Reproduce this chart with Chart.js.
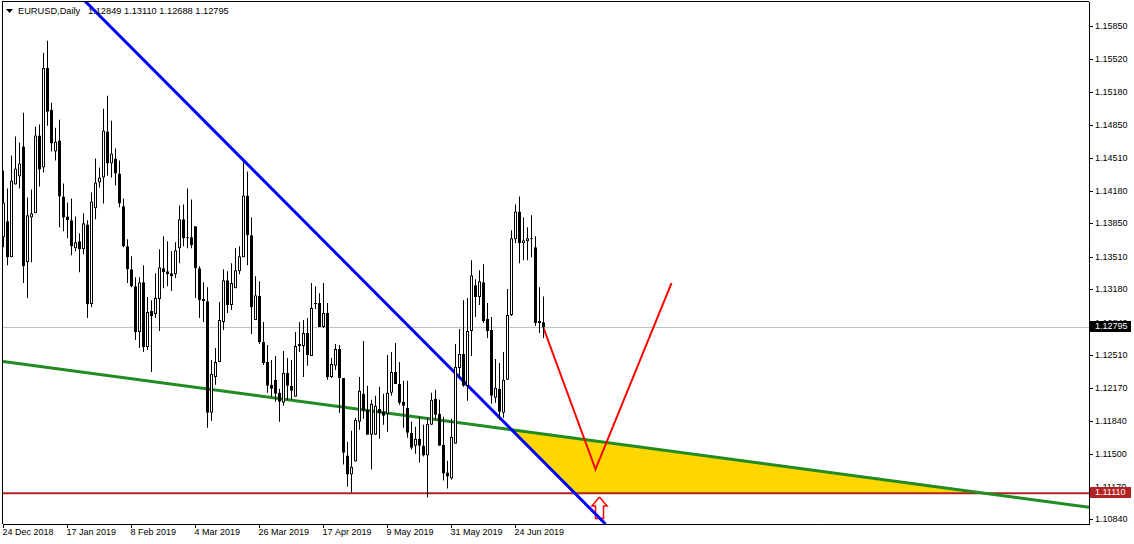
<!DOCTYPE html>
<html><head><meta charset="utf-8">
<style>html,body{margin:0;padding:0;background:#fff;overflow:hidden}canvas{display:block}</style>
<script src="https://cdn.jsdelivr.net/npm/chart.js@4/dist/chart.umd.min.js"></script>
</head><body><canvas id="c" width="1134" height="544"></canvas>
<script>
const opens=[1.13712,1.13874,1.13509,1.14249,1.14330,1.14634,1.13458,1.13914,1.13955,1.14745,1.14421,1.15434,1.15009,1.14583,1.14695,1.14127,1.13924,1.13884,1.13600,1.13671,1.13590,1.13843,1.13033,1.14006,1.14269,1.14320,1.14786,1.14461,1.14512,1.14360,1.14026,1.13621,1.13387,1.13215,1.12749,1.13256,1.12597,1.12962,1.12932,1.13084,1.13398,1.13367,1.13347,1.13337,1.13600,1.13894,1.13712,1.13712,1.13823,1.13398,1.13084,1.13063,1.11928,1.12293,1.12445,1.12850,1.13276,1.13023,1.13195,1.13367,1.13509,1.14137,1.13732,1.12871,1.13114,1.12648,1.12445,1.12212,1.12263,1.12131,1.12030,1.12334,1.12202,1.12091,1.12628,1.12607,1.12739,1.12506,1.13043,1.13043,1.12800,1.12942,1.12293,1.12405,1.12577,1.12283,1.11493,1.11300,1.11432,1.11837,1.12121,1.11959,1.11706,1.11706,1.11969,1.11939,1.11918,1.12131,1.12344,1.12222,1.12040,1.11979,1.11726,1.11594,1.11665,1.11594,1.11493,1.11807,1.12070,1.11918,1.11604,1.11321,1.11260,1.11614,1.12384,1.12526,1.12202,1.12759,1.13225,1.13104,1.13256,1.12881,1.12769,1.12080,1.12172,1.11928,1.12263,1.12921,1.13691,1.13975,1.13651,1.13671,1.13691,1.13610,1.12861,1.12849];
const highs=[1.14391,1.14208,1.14543,1.14735,1.14674,1.14978,1.14117,1.14198,1.14836,1.14857,1.15586,1.15708,1.15080,1.14826,1.14907,1.14259,1.14066,1.14107,1.13924,1.13752,1.13955,1.13884,1.14168,1.14512,1.14421,1.15019,1.15150,1.14897,1.14613,1.14492,1.14107,1.13691,1.13519,1.13306,1.13306,1.13428,1.13104,1.13073,1.13347,1.13590,1.13722,1.13671,1.13570,1.13661,1.14036,1.14046,1.14208,1.14097,1.13823,1.13418,1.13256,1.13205,1.12465,1.12587,1.13053,1.13387,1.13367,1.13448,1.13600,1.13621,1.14472,1.14380,1.13914,1.13317,1.13266,1.12850,1.12617,1.12465,1.12506,1.12172,1.12557,1.12486,1.12465,1.12749,1.12850,1.12871,1.12891,1.13246,1.13215,1.13144,1.13246,1.13043,1.12486,1.12628,1.12617,1.12283,1.11635,1.11746,1.11878,1.12293,1.12658,1.12202,1.12060,1.12101,1.12192,1.12121,1.12516,1.12547,1.12638,1.12445,1.12253,1.12253,1.11837,1.11787,1.11888,1.11807,1.11878,1.12131,1.12162,1.12060,1.11888,1.11442,1.11868,1.12628,1.12780,1.13073,1.13094,1.13479,1.13286,1.13377,1.13438,1.13043,1.12901,1.12476,1.12435,1.12547,1.13185,1.13783,1.14046,1.14127,1.13914,1.13813,1.13935,1.13722,1.13205,1.13110];
const lows=[1.13610,1.13428,1.13509,1.14249,1.14208,1.13246,1.13094,1.13458,1.13955,1.14228,1.14370,1.14846,1.14583,1.14492,1.13813,1.13773,1.13702,1.13529,1.13570,1.13357,1.13539,1.12891,1.13002,1.13894,1.14218,1.14056,1.14340,1.14320,1.14239,1.14016,1.13610,1.13246,1.13205,1.12668,1.12587,1.12547,1.12567,1.12344,1.12891,1.12759,1.13195,1.13215,1.13165,1.13296,1.13448,1.13621,1.13600,1.13600,1.13094,1.12891,1.12850,1.11777,1.11847,1.12212,1.12445,1.12769,1.12942,1.12972,1.13195,1.13337,1.13509,1.13428,1.12729,1.12871,1.12628,1.12415,1.12131,1.12091,1.12040,1.11837,1.11999,1.12060,1.12060,1.12091,1.12547,1.12293,1.12405,1.12506,1.12982,1.12800,1.12790,1.12263,1.12283,1.12364,1.11928,1.11402,1.11179,1.11118,1.11432,1.11756,1.11868,1.11706,1.11351,1.11706,1.11665,1.11807,1.11736,1.12101,1.12222,1.12010,1.11777,1.11675,1.11554,1.11513,1.11422,1.11483,1.11067,1.11807,1.11858,1.11594,1.11240,1.11158,1.11250,1.11614,1.12283,1.12192,1.12050,1.12506,1.12901,1.13023,1.12840,1.12688,1.12020,1.12030,1.11858,1.11878,1.12263,1.12911,1.13651,1.13448,1.13479,1.13479,1.13509,1.12810,1.12739,1.12688];
const closes=[1.14066,1.13509,1.14289,1.14411,1.14461,1.13418,1.13935,1.13955,1.14745,1.14401,1.15434,1.14988,1.14664,1.14684,1.14127,1.13914,1.13884,1.13621,1.13661,1.13590,1.13854,1.13033,1.14076,1.14269,1.14320,1.14796,1.14461,1.14563,1.14360,1.14056,1.13621,1.13387,1.13215,1.12749,1.13256,1.12597,1.12952,1.12911,1.13094,1.13408,1.13357,1.13337,1.13317,1.13580,1.13894,1.13702,1.13702,1.13631,1.13398,1.13073,1.13063,1.11928,1.12324,1.12445,1.12871,1.13276,1.13023,1.13246,1.13377,1.13519,1.14137,1.13732,1.13002,1.13124,1.12648,1.12435,1.12202,1.12172,1.12121,1.12040,1.12334,1.12202,1.12151,1.12607,1.12607,1.12739,1.12516,1.12992,1.13033,1.12800,1.12942,1.12293,1.12425,1.12577,1.12283,1.11523,1.11300,1.11381,1.11858,1.12151,1.11949,1.11706,1.12020,1.11999,1.11928,1.11898,1.12131,1.12344,1.12222,1.12030,1.11999,1.11726,1.11574,1.11665,1.11594,1.11493,1.11817,1.12060,1.11908,1.11594,1.11310,1.11280,1.11685,1.12395,1.12526,1.12202,1.12759,1.13327,1.13104,1.13266,1.12861,1.12759,1.12101,1.12182,1.11939,1.12263,1.12921,1.13702,1.13975,1.13651,1.13681,1.13702,1.13691,1.12840,1.12840,1.12795];
const dateTickBars=[0,16,32,48,64,80,96,112,128];
const dateTickLabels=["24 Dec 2018","17 Jan 2019","8 Feb 2019","4 Mar 2019","26 Mar 2019","17 Apr 2019","9 May 2019","31 May 2019","24 Jun 2019"];
const priceTicks=[1.15850,1.15520,1.15180,1.14850,1.14510,1.14180,1.13850,1.13510,1.13180,1.12840,1.12510,1.12170,1.11840,1.11500,1.11170,1.10840];
const titleText="EURUSD,Daily";
const ohlcText="1.12849 1.13110 1.12688 1.12795";
const lastPrice=1.12795, supportPrice=1.11110;
const blueX=[20.2,150.5], blueY=[1.16120,1.10798];
const greenX=[-0.125,271.375], greenY=[1.12449,1.10968];
const vX=[135,148,167], vY=[1.12790,1.11354,1.13247];
const fillX=[127.1,142.9,245.1], fillY=[1.11758,1.11110,1.11110];
const arrowX=[149,147.1,148,148,150,150,150.9,149], arrowY=[1.11072,1.10981,1.10981,1.10854,1.10854,1.10981,1.10981,1.11072];
const xRange=[-0.125,271.375], yRange=[1.10798,1.16103];

const zip=(xs,ys)=>xs.map((x,i)=>({x,y:ys[i]}));
const FONT='"Liberation Sans"', FS=9;
const el=document.getElementById('c');
el.getContext('2d',{alpha:false});
const lineDs=(data,color,width,order,extra)=>Object.assign({type:'line',data,borderColor:color,borderWidth:width,pointRadius:0,tension:0,fill:false,order,borderCapStyle:'butt',borderJoinStyle:'miter'},extra||{});
const noPad=s=>{s.paddingTop=0;s.paddingBottom=0;s.paddingLeft=0;s.paddingRight=0;};
const frame={id:'frame',
 beforeDraw(ch){const c=ch.ctx;c.save();c.fillStyle='#fff';c.fillRect(0,0,ch.width,ch.height);c.restore();},
 afterDraw(ch){const c=ch.ctx,a=ch.chartArea,y=ch.scales.y,x=ch.scales.x;c.save();
  c.fillStyle='#000';
  c.fillRect(Math.round(a.left)-1,Math.round(a.top)-1,1,Math.round(a.bottom-a.top)+1);
  c.fillRect(Math.round(a.left)-1,Math.round(a.top)-1,Math.round(a.right-a.left)+1,1);
  dateTickBars.forEach(v=>c.fillRect(Math.floor(x.getPixelForValue(v)),Math.round(a.bottom),1,4));
  priceTicks.forEach(v=>c.fillRect(Math.round(a.right),Math.floor(y.getPixelForValue(v)),4,1));
  c.textBaseline='middle';c.textAlign='left';c.font=FS+'px '+FONT;
  [[lastPrice,'#000'],[supportPrice,'#B22222']].forEach(([p,col])=>{const py=Math.round(y.getPixelForValue(p));
    c.fillStyle=col;c.fillRect(1090,py-6,41,11);c.fillStyle='#fff';c.fillText(p.toFixed(5),1095,py-0.5);});
  c.fillStyle='#000';c.beginPath();c.moveTo(6,9);c.lineTo(13,9);c.lineTo(9.5,13);c.closePath();c.fill();
  c.font='9.25px '+FONT;
  c.fillText(titleText,18,11);c.fillText(ohlcText,88,11);
  c.restore();}};
new Chart(el,{type:'bar',plugins:[frame],
 data:{datasets:[
  {type:'bar',label:'wick',data:highs.map((h,i)=>({x:i,y:[lows[i],h]})),barThickness:1,grouped:false,backgroundColor:'#000',borderWidth:0,inflateAmount:0,order:1},
  {type:'bar',label:'body',data:opens.map((o,i)=>({x:i,y:[o,closes[i]]})),barThickness:3,grouped:false,
   backgroundColor:c=>closes[c.dataIndex]>opens[c.dataIndex]?'#fff':'#000',borderColor:'#000',borderWidth:1,borderSkipped:false,inflateAmount:0,minBarLength:1,order:0},
  lineDs(zip(fillX,fillY),'rgba(0,0,0,0)',0,9,{fill:'shape',backgroundColor:'#FFD700'}),
  lineDs(zip(xRange,[lastPrice,lastPrice]),'#C0C0C0',1,8),
  lineDs(zip(xRange,[supportPrice,supportPrice]),'#B22222',2,7),
  lineDs(zip(arrowX,arrowY),'#FF0000',1.5,6,{fill:'shape',backgroundColor:'#fff'}),
  lineDs(zip(greenX,greenY),'#228B22',3,5),
  lineDs(zip(blueX,blueY),'#0000FF',3,4),
  lineDs(zip(vX,vY),'#FF0000',2,3)
 ]},
 options:{responsive:false,animation:false,devicePixelRatio:1,events:[],
  layout:{padding:{left:3,top:2,right:0,bottom:0}},
  plugins:{legend:{display:false},title:{display:false},tooltip:{enabled:false}},
  scales:{
   x:{type:'linear',min:xRange[0],max:xRange[1],offset:false,
    afterBuildTicks:s=>{s.ticks=dateTickBars.map(v=>({value:v}));},
    afterFit:s=>{s.height=20;noPad(s);},
    grid:{drawOnChartArea:false,drawTicks:false},border:{color:'#000'},
    ticks:{autoSkip:false,maxRotation:0,minRotation:0,align:'start',padding:3,labelOffset:-1,color:'#000',font:{family:FONT,size:FS},
     callback:v=>dateTickLabels[dateTickBars.indexOf(v)]||''}},
   y:{type:'linear',position:'right',min:yRange[0],max:yRange[1],
    afterBuildTicks:s=>{s.ticks=priceTicks.map(v=>({value:v}));},
    afterFit:s=>{s.width=45;noPad(s);},
    grid:{drawOnChartArea:false,drawTicks:false},border:{color:'#000'},
    ticks:{autoSkip:false,padding:6,color:'#000',font:{family:FONT,size:FS},callback:v=>v.toFixed(5)}}
  }}});
</script></body></html>
